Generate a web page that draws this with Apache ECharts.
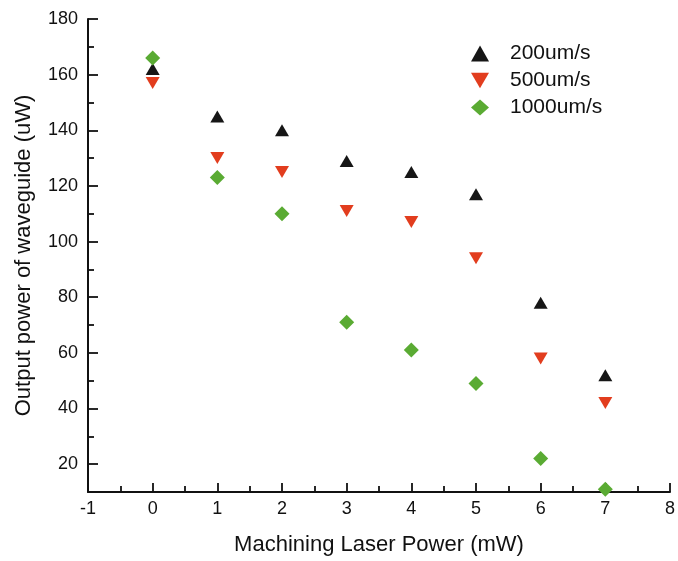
<!DOCTYPE html>
<html>
<head>
<meta charset="utf-8">
<script src="https://cdn.jsdelivr.net/npm/echarts@6/dist/echarts.min.js"></script>
<style>
  html, body { margin: 0; padding: 0; background: #fff; }
  #chart1 { width: 678px; height: 561px; }
</style>
</head>
<body>
<div id="chart1"></div>
<script>
var dom = document.getElementById("chart1");
var myChart = echarts.init(dom);

// laser power (mW)
var powers = [0, 1, 2, 3, 4, 5, 6, 7];
// output power (uW) for each scan speed
var speed200 = [162, 145, 140, 129, 125, 117, 78, 52];
var speed500 = [157, 130, 125, 111, 107, 94, 58, 42];
var speed1000 = [166, 123, 110, 71, 61, 49, 22, 11];
var seriesNames = ["200um/s", "500um/s", "1000um/s"];
// y ticks
var yMajor = [20, 40, 60, 80, 100, 120, 140, 160, 180];
var yMinor = [30, 50, 70, 90, 110, 130, 150, 170];

function pairs(vals) {
    return powers.map(function (p, i) { return [p, vals[i]]; });
}

var font = "Liberation Sans";
var ink = "#111";
var colors = ["#161616", "#e23d1e", "#5aab33"];

option = {
    animation: false,
    backgroundColor: "#fff",
    grid: { left: 88, top: 19, right: 5, bottom: 67 },
    legend: {
        orient: "vertical",
        left: 466,
        top: 38,
        itemWidth: 18,
        itemHeight: 16,
        itemGap: 6,
        textStyle: { fontFamily: font, fontSize: 21, color: ink, padding: [0, 0, 0, 16] },
        data: [
            { name: seriesNames[0], icon: "triangle" },
            { name: seriesNames[1], icon: "path://M0,0L10,0L5,8.6Z" },
            { name: seriesNames[2], icon: "diamond" }
        ]
    },
    xAxis: {
        type: "value",
        min: -1, max: 8, interval: 1,
        name: "Machining Laser Power (mW)",
        nameLocation: "middle",
        nameGap: 42,
        nameTextStyle: { fontFamily: font, fontSize: 22, color: ink },
        axisLine: { onZero: false, lineStyle: { color: ink, width: 2 } },
        axisTick: { inside: true, length: 9, lineStyle: { color: ink, width: 1.8 } },
        minorTick: { show: true, splitNumber: 2, length: 6, lineStyle: { color: ink, width: 1.8 } },
        axisLabel: { fontFamily: font, fontSize: 18, color: ink, margin: 8 },
        splitLine: { show: false }
    },
    yAxis: [
        {
            type: "value",
            position: "left",
            min: 10, max: 180,
            name: "Output power of waveguide (uW)",
            nameLocation: "middle",
            nameGap: 53,
            nameTextStyle: { fontFamily: font, fontSize: 22, color: ink },
            axisLine: { show: true, onZero: false, lineStyle: { color: ink, width: 2 } },
            axisTick: { inside: true, length: 10, customValues: yMajor, lineStyle: { color: ink, width: 1.8 } },
            axisLabel: { fontFamily: font, fontSize: 18, color: ink, margin: 10, customValues: yMajor },
            splitLine: { show: false }
        },
        {
            type: "value",
            position: "left",
            min: 10, max: 180,
            axisLine: { show: false, onZero: false },
            axisTick: { show: true, inside: true, length: 6, customValues: yMinor, lineStyle: { color: ink, width: 1.8 } },
            axisLabel: { show: false },
            splitLine: { show: false }
        }
    ],
    series: [
        {
            name: seriesNames[0], type: "scatter", data: pairs(speed200),
            symbol: "triangle", symbolSize: [14, 12],
            itemStyle: { color: colors[0], opacity: 1 }
        },
        {
            name: seriesNames[1], type: "scatter", data: pairs(speed500),
            symbol: "triangle", symbolSize: [14, 12], symbolRotate: 180,
            itemStyle: { color: colors[1], opacity: 1 }
        },
        {
            name: seriesNames[2], type: "scatter", data: pairs(speed1000),
            symbol: "diamond", symbolSize: [15, 15],
            itemStyle: { color: colors[2], opacity: 1 }
        }
    ]
};

if (option && typeof option === "object") {
    myChart.setOption(option, true);
}
</script>
</body>
</html>
